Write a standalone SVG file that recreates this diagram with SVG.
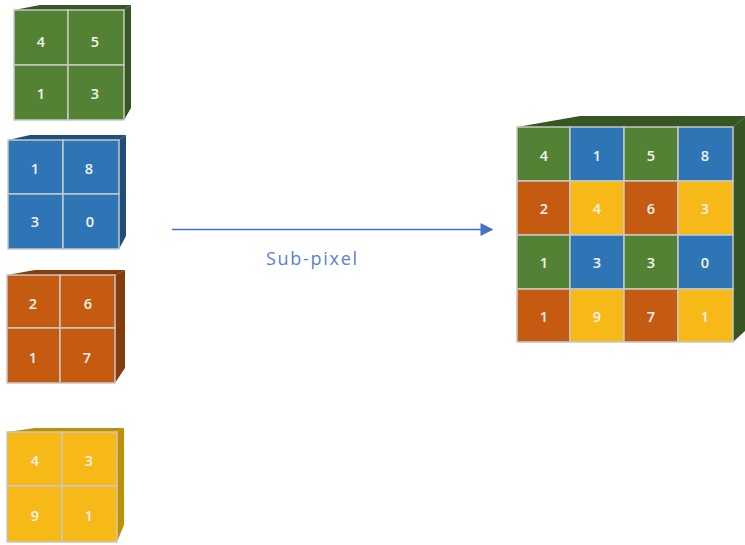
<svg xmlns="http://www.w3.org/2000/svg" width="745" height="545" viewBox="0 0 745 545">
  <style>
    .grid { stroke: #c8c8c8; stroke-width: 1.5; }
    .g { fill: #548235; }
    .gd { fill: #375623; }
    .b { fill: #2e75b6; }
    .bd { fill: #1f4e79; }
    .o { fill: #c55a11; }
    .od { fill: #843c0c; }
    .y { fill: #f7b918; }
    .yd { fill: #bf9000; }
    .num { font-family: "Open Sans", "DejaVu Sans", sans-serif; font-size: 14.5px; font-weight: 600; fill: #f4f4ee; text-anchor: middle; dominant-baseline: central; }
    .lbl { font-family: "Open Sans", "Liberation Sans", sans-serif; font-size: 18px; fill: #5a7fcc; }
  </style>
  <defs>
    <marker id="arrow" viewBox="0 0 10 10" refX="9" refY="5" markerWidth="8" markerHeight="8" markerUnits="strokeWidth" orient="auto">
      <path d="M0,0 L10,5 L0,10 z" fill="#4472c4"/>
    </marker>
  </defs>

  <!-- green 2x2 block -->
  <g id="cube-green">
    <polygon class="gd" points="14,10 40,5 131,5 124,10"/>
    <polygon class="gd" points="124,10 131,5 131,108 124,120"/>
    <rect class="g grid" x="14" y="10" width="54" height="55"/>
    <rect class="g grid" x="68" y="10" width="56" height="55"/>
    <rect class="g grid" x="14" y="65" width="54" height="55"/>
    <rect class="g grid" x="68" y="65" width="56" height="55"/>
    <text class="num" x="41" y="41">4</text>
    <text class="num" x="95" y="41">5</text>
    <text class="num" x="41" y="93">1</text>
    <text class="num" x="95" y="93">3</text>
  </g>

  <!-- blue 2x2 block -->
  <g id="cube-blue">
    <polygon class="bd" points="8,140 30,135 126,135 119,140"/>
    <polygon class="bd" points="119,140 126,135 126,236 119,249"/>
    <rect class="b grid" x="8" y="140" width="55" height="54"/>
    <rect class="b grid" x="63" y="140" width="56" height="54"/>
    <rect class="b grid" x="8" y="194" width="55" height="55"/>
    <rect class="b grid" x="63" y="194" width="56" height="55"/>
    <text class="num" x="35" y="168">1</text>
    <text class="num" x="89" y="168">8</text>
    <text class="num" x="35" y="221">3</text>
    <text class="num" x="90" y="221">0</text>
  </g>

  <!-- orange 2x2 block -->
  <g id="cube-orange">
    <polygon class="od" points="7,275 35,270 125,270 115,275"/>
    <polygon class="od" points="115,275 125,270 125,368 115,383"/>
    <rect class="o grid" x="7" y="275" width="53" height="53"/>
    <rect class="o grid" x="60" y="275" width="55" height="53"/>
    <rect class="o grid" x="7" y="328" width="53" height="55"/>
    <rect class="o grid" x="60" y="328" width="55" height="55"/>
    <text class="num" x="33" y="303">2</text>
    <text class="num" x="88" y="303">6</text>
    <text class="num" x="33" y="357">1</text>
    <text class="num" x="87" y="357">7</text>
  </g>

  <!-- yellow 2x2 block -->
  <g id="cube-yellow">
    <polygon class="yd" points="7,432 35,428 124,428 117,432"/>
    <polygon class="yd" points="117,432 124,428 124,525 117,542"/>
    <rect class="y grid" x="7" y="432" width="55" height="54"/>
    <rect class="y grid" x="62" y="432" width="55" height="54"/>
    <rect class="y grid" x="7" y="486" width="55" height="56"/>
    <rect class="y grid" x="62" y="486" width="55" height="56"/>
    <text class="num" x="35" y="460">4</text>
    <text class="num" x="89" y="460">3</text>
    <text class="num" x="35" y="515">9</text>
    <text class="num" x="89" y="515">1</text>
  </g>

  <!-- combined 4x4 block -->
  <g id="cube-output">
    <polygon class="gd" points="517,127 580,116 746,116 733,127"/>
    <polygon class="gd" points="733,127 746,116 746,330 733,342"/>
    <rect class="g grid" x="517" y="127" width="53" height="54"/>
    <rect class="b grid" x="570" y="127" width="54" height="54"/>
    <rect class="g grid" x="624" y="127" width="54" height="54"/>
    <rect class="b grid" x="678" y="127" width="55" height="54"/>
    <rect class="o grid" x="517" y="181" width="53" height="54"/>
    <rect class="y grid" x="570" y="181" width="54" height="54"/>
    <rect class="o grid" x="624" y="181" width="54" height="54"/>
    <rect class="y grid" x="678" y="181" width="55" height="54"/>
    <rect class="g grid" x="517" y="235" width="53" height="54"/>
    <rect class="b grid" x="570" y="235" width="54" height="54"/>
    <rect class="g grid" x="624" y="235" width="54" height="54"/>
    <rect class="b grid" x="678" y="235" width="55" height="54"/>
    <rect class="o grid" x="517" y="289" width="53" height="53"/>
    <rect class="y grid" x="570" y="289" width="54" height="53"/>
    <rect class="o grid" x="624" y="289" width="54" height="53"/>
    <rect class="y grid" x="678" y="289" width="55" height="53"/>
    <text class="num" x="544" y="155">4</text>
    <text class="num" x="597" y="155">1</text>
    <text class="num" x="651" y="155">5</text>
    <text class="num" x="705" y="155">8</text>
    <text class="num" x="544" y="208">2</text>
    <text class="num" x="597" y="208">4</text>
    <text class="num" x="651" y="208">6</text>
    <text class="num" x="705" y="208">3</text>
    <text class="num" x="544" y="262">1</text>
    <text class="num" x="597" y="262">3</text>
    <text class="num" x="651" y="262">3</text>
    <text class="num" x="705" y="262">0</text>
    <text class="num" x="544" y="316">1</text>
    <text class="num" x="597" y="316">9</text>
    <text class="num" x="651" y="316">7</text>
    <text class="num" x="705" y="316">1</text>
  </g>

  <!-- connector -->
  <g id="connectors">
    <line x1="172" y1="229.5" x2="492" y2="229.5" stroke="#4472c4" stroke-width="1.6" marker-end="url(#arrow)"/>
    <text class="lbl" x="266" y="265" textLength="91" lengthAdjust="spacing">Sub-pixel</text>
  </g>
</svg>
